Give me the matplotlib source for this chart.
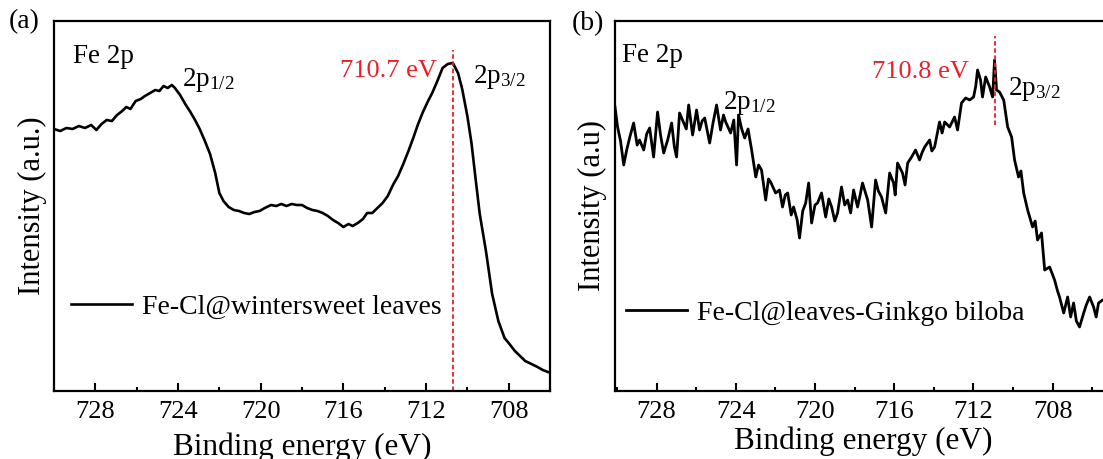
import matplotlib
matplotlib.use("Agg")
import matplotlib.pyplot as plt
from matplotlib.ticker import MultipleLocator

# === fonts ===
plt.rcParams['font.family'] = ['Liberation Serif', 'DejaVu Serif']
plt.rcParams['mathtext.default'] = 'regular'

# === DATA: panel (a) Fe-Cl@wintersweet leaves ===
energy_a = [730.0, 729.7, 729.4, 729.1, 728.8, 728.5, 728.2, 727.95, 727.7, 727.45,
            727.2, 726.95, 726.7, 726.5, 726.3, 726.05, 725.8, 725.6, 725.35, 725.1,
            724.9, 724.7, 724.5, 724.3, 724.15, 723.9, 723.65, 723.4, 723.15, 722.95,
            722.7, 722.45, 722.2, 722.0, 721.8, 721.55, 721.3, 721.05, 720.8, 720.55,
            720.3, 720.05, 719.8, 719.5, 719.25, 719.0, 718.75, 718.5, 718.25, 718.0,
            717.75, 717.5, 717.25, 717.0, 716.75, 716.5, 716.25, 716.0, 715.75, 715.55,
            715.3, 715.05, 714.85, 714.6, 714.35, 714.1, 713.85, 713.6, 713.35, 713.1,
            712.85, 712.6, 712.4, 712.15, 711.9, 711.7, 711.45, 711.2, 710.95, 710.7,
            710.45, 710.25, 710.0, 709.8, 709.6, 709.4, 709.1, 708.8, 708.5, 708.2,
            708.0, 707.7, 707.4, 707.2, 706.9, 706.6, 706.35, 706.1]
intensity_a = [262, 260, 263, 262, 265, 263, 266, 261, 267, 271,
               270, 276, 280, 284, 282, 290, 292, 295, 298, 301,
               300, 305, 303, 306, 303, 296, 287, 279, 270, 262,
               250, 237, 218, 198, 190, 184, 181, 180, 178, 177,
               179, 180, 183, 186, 185, 187, 185, 187, 186, 186,
               183, 181, 180, 178, 175, 171, 168, 164, 167, 165,
               168, 172, 178, 178, 183, 188, 195, 206, 215, 227,
               240, 254, 266, 279, 290, 298, 310, 323, 327, 328,
               318, 302, 275, 248, 212, 177, 140, 97, 70, 53,
               48, 40, 34, 30, 27, 24, 21, 19]

# === DATA: panel (b) Fe-Cl@leaves-Ginkgo biloba ===
energy_b = [730.1, 729.97, 729.82, 729.66, 729.51, 729.35, 729.16, 728.98, 728.86, 728.65,
            728.5, 728.35, 728.15, 727.95, 727.8, 727.64, 727.44, 727.24, 727.1, 726.99,
            726.84, 726.63, 726.5, 726.38, 726.18, 725.98, 725.83, 725.7, 725.57, 725.32,
            725.15, 724.97, 724.77, 724.62, 724.51, 724.26, 724.1, 723.96, 723.86, 723.7,
            723.55, 723.38, 723.2, 722.99, 722.85, 722.7, 722.49, 722.35, 722.24, 721.99,
            721.79, 721.64, 721.5, 721.38, 721.2, 721.08, 720.9, 720.78, 720.62, 720.47,
            720.32, 720.17, 720.0, 719.87, 719.67, 719.46, 719.3, 719.16, 719.0, 718.86,
            718.66, 718.5, 718.35, 718.2, 718.05, 717.85, 717.72, 717.6, 717.34, 717.14,
            716.94, 716.8, 716.64, 716.43, 716.23, 716.03, 715.95, 715.83, 715.58, 715.45,
            715.32, 715.12, 714.92, 714.72, 714.6, 714.46, 714.21, 714.1, 713.96, 713.71,
            713.58, 713.45, 713.2, 712.95, 712.8, 712.6, 712.39, 712.19, 711.99, 711.88,
            711.79, 711.64, 711.54, 711.38, 711.18, 711.03, 710.93, 710.83, 710.68, 710.47,
            710.27, 710.07, 709.92, 709.72, 709.6, 709.46, 709.26, 709.01, 708.88, 708.76,
            708.56, 708.4, 708.15, 707.9, 707.75, 707.65, 707.44, 707.24, 707.09, 706.94,
            706.8, 706.64, 706.43, 706.3, 706.13, 705.93, 705.8, 705.68, 705.47, 705.0]
intensity_b = [284, 264, 250, 226, 241, 254, 268, 246, 251, 241,
               257, 263, 234, 279, 256, 238, 251, 268, 244, 234,
               278, 268, 262, 286, 256, 281, 261, 270, 273, 248,
               268, 286, 261, 276, 269, 258, 271, 226, 276, 262,
               253, 262, 241, 214, 226, 221, 191, 212, 209, 198,
               201, 184, 196, 198, 176, 184, 171, 153, 180, 188,
               208, 168, 186, 188, 198, 174, 192, 184, 170, 178,
               204, 186, 191, 178, 201, 184, 196, 208, 191, 164,
               211, 200, 194, 178, 218, 208, 196, 228, 218, 206,
               228, 234, 241, 231, 238, 244, 251, 240, 244, 269,
               258, 269, 264, 274, 261, 288, 293, 291, 294, 305,
               321, 311, 294, 314, 304, 294, 331, 301, 299, 291,
               264, 254, 231, 214, 220, 198, 181, 164, 170, 151,
               158, 121, 124, 111, 100, 94, 78, 94, 74, 88,
               70, 64, 78, 86, 94, 84, 74, 88, 91, 93]

xticks = [728, 724, 720, 716, 712, 708]
peak_a = 710.7
peak_b = 710.9

fig = plt.figure(figsize=(11.03, 4.59), dpi=100)
ax_a = fig.add_axes([0.04896, 0.14815, 0.44969, 0.80610])
ax_b = fig.add_axes([0.55757, 0.14815, 0.45059, 0.80610])


def style_axis(ax, xlim, label, ylab_pad, xlab_pad):
    ax.set_xlim(*xlim)
    ax.set_ylim(0, 370)
    ax.set_xticks(xticks)
    ax.xaxis.set_minor_locator(MultipleLocator(2))
    ax.set_yticks([])
    ax.tick_params(axis='x', which='major', direction='in', length=6, width=1.5,
                   labelsize=19, pad=7, top=False)
    ax.tick_params(axis='x', which='minor', direction='in', length=3, width=1.5, top=False)
    for sp in ax.spines.values():
        sp.set_linewidth(1.6)
    ax.set_xlabel('Binding energy (eV)', fontsize=22.5, labelpad=xlab_pad)
    ax.set_ylabel(label, fontsize=22, labelpad=ylab_pad)


# === panel (a) ===
ax_a.plot(energy_a, intensity_a, color='black', lw=1.9, label='Fe-Cl@wintersweet leaves')
ax_a.axvline(peak_a, ymin=0, ymax=0.922, color='#e8202a', ls=(0, (2.5, 1.5)), lw=1.3)
style_axis(ax_a, (730, 706), 'Intensity (a.u.)', 5, 7)
ax_a.text(0.038, 0.903, 'Fe 2p', transform=ax_a.transAxes, fontsize=19.5, va='center')
ax_a.text(0.258, 0.841, '2p$_{1/2}$', transform=ax_a.transAxes, fontsize=19.5, va='center')
ax_a.text(0.772, 0.865, '710.7 eV', transform=ax_a.transAxes, fontsize=19, va='center',
          ha='right', color='#e8202a')
ax_a.text(0.845, 0.849, '2p$_{3/2}$', transform=ax_a.transAxes, fontsize=19.5, va='center')
ax_a.legend(loc='center left', bbox_to_anchor=(0.034, 0.227), frameon=False, fontsize=20,
            handlelength=2.2, handletextpad=0.35, borderpad=0, borderaxespad=0)

# === panel (b) ===
ax_b.plot(energy_b, intensity_b, color='black', lw=2.0, label='Fe-Cl@leaves-Ginkgo biloba')
ax_b.axvline(peak_b, ymin=0.719, ymax=0.959, color='#e8202a', ls=(0, (2.5, 1.5)), lw=1.3)
style_axis(ax_b, (730.1, 705), 'Intensity (a.u)', 6, 3)
ax_b.text(0.014, 0.908, 'Fe 2p', transform=ax_b.transAxes, fontsize=19.5, va='center')
ax_b.text(0.217, 0.778, '2p$_{1/2}$', transform=ax_b.transAxes, fontsize=19.5, va='center')
ax_b.text(0.712, 0.862, '710.8 eV', transform=ax_b.transAxes, fontsize=19, va='center',
          ha='right', color='#e8202a')
ax_b.text(0.791, 0.816, '2p$_{3/2}$', transform=ax_b.transAxes, fontsize=19.5, va='center')
ax_b.legend(loc='center left', bbox_to_anchor=(0.022, 0.211), frameon=False, fontsize=20,
            handlelength=2.2, handletextpad=0.35, borderpad=0, borderaxespad=0)

# === panel letters ===
fig.text(24 / 1103, 1 - 22 / 459, '(a)', fontsize=20, ha='center', va='center')
fig.text(588 / 1103, 1 - 24 / 459, '(b)', fontsize=20, ha='center', va='center')

fig.savefig('out.png', dpi=100)
